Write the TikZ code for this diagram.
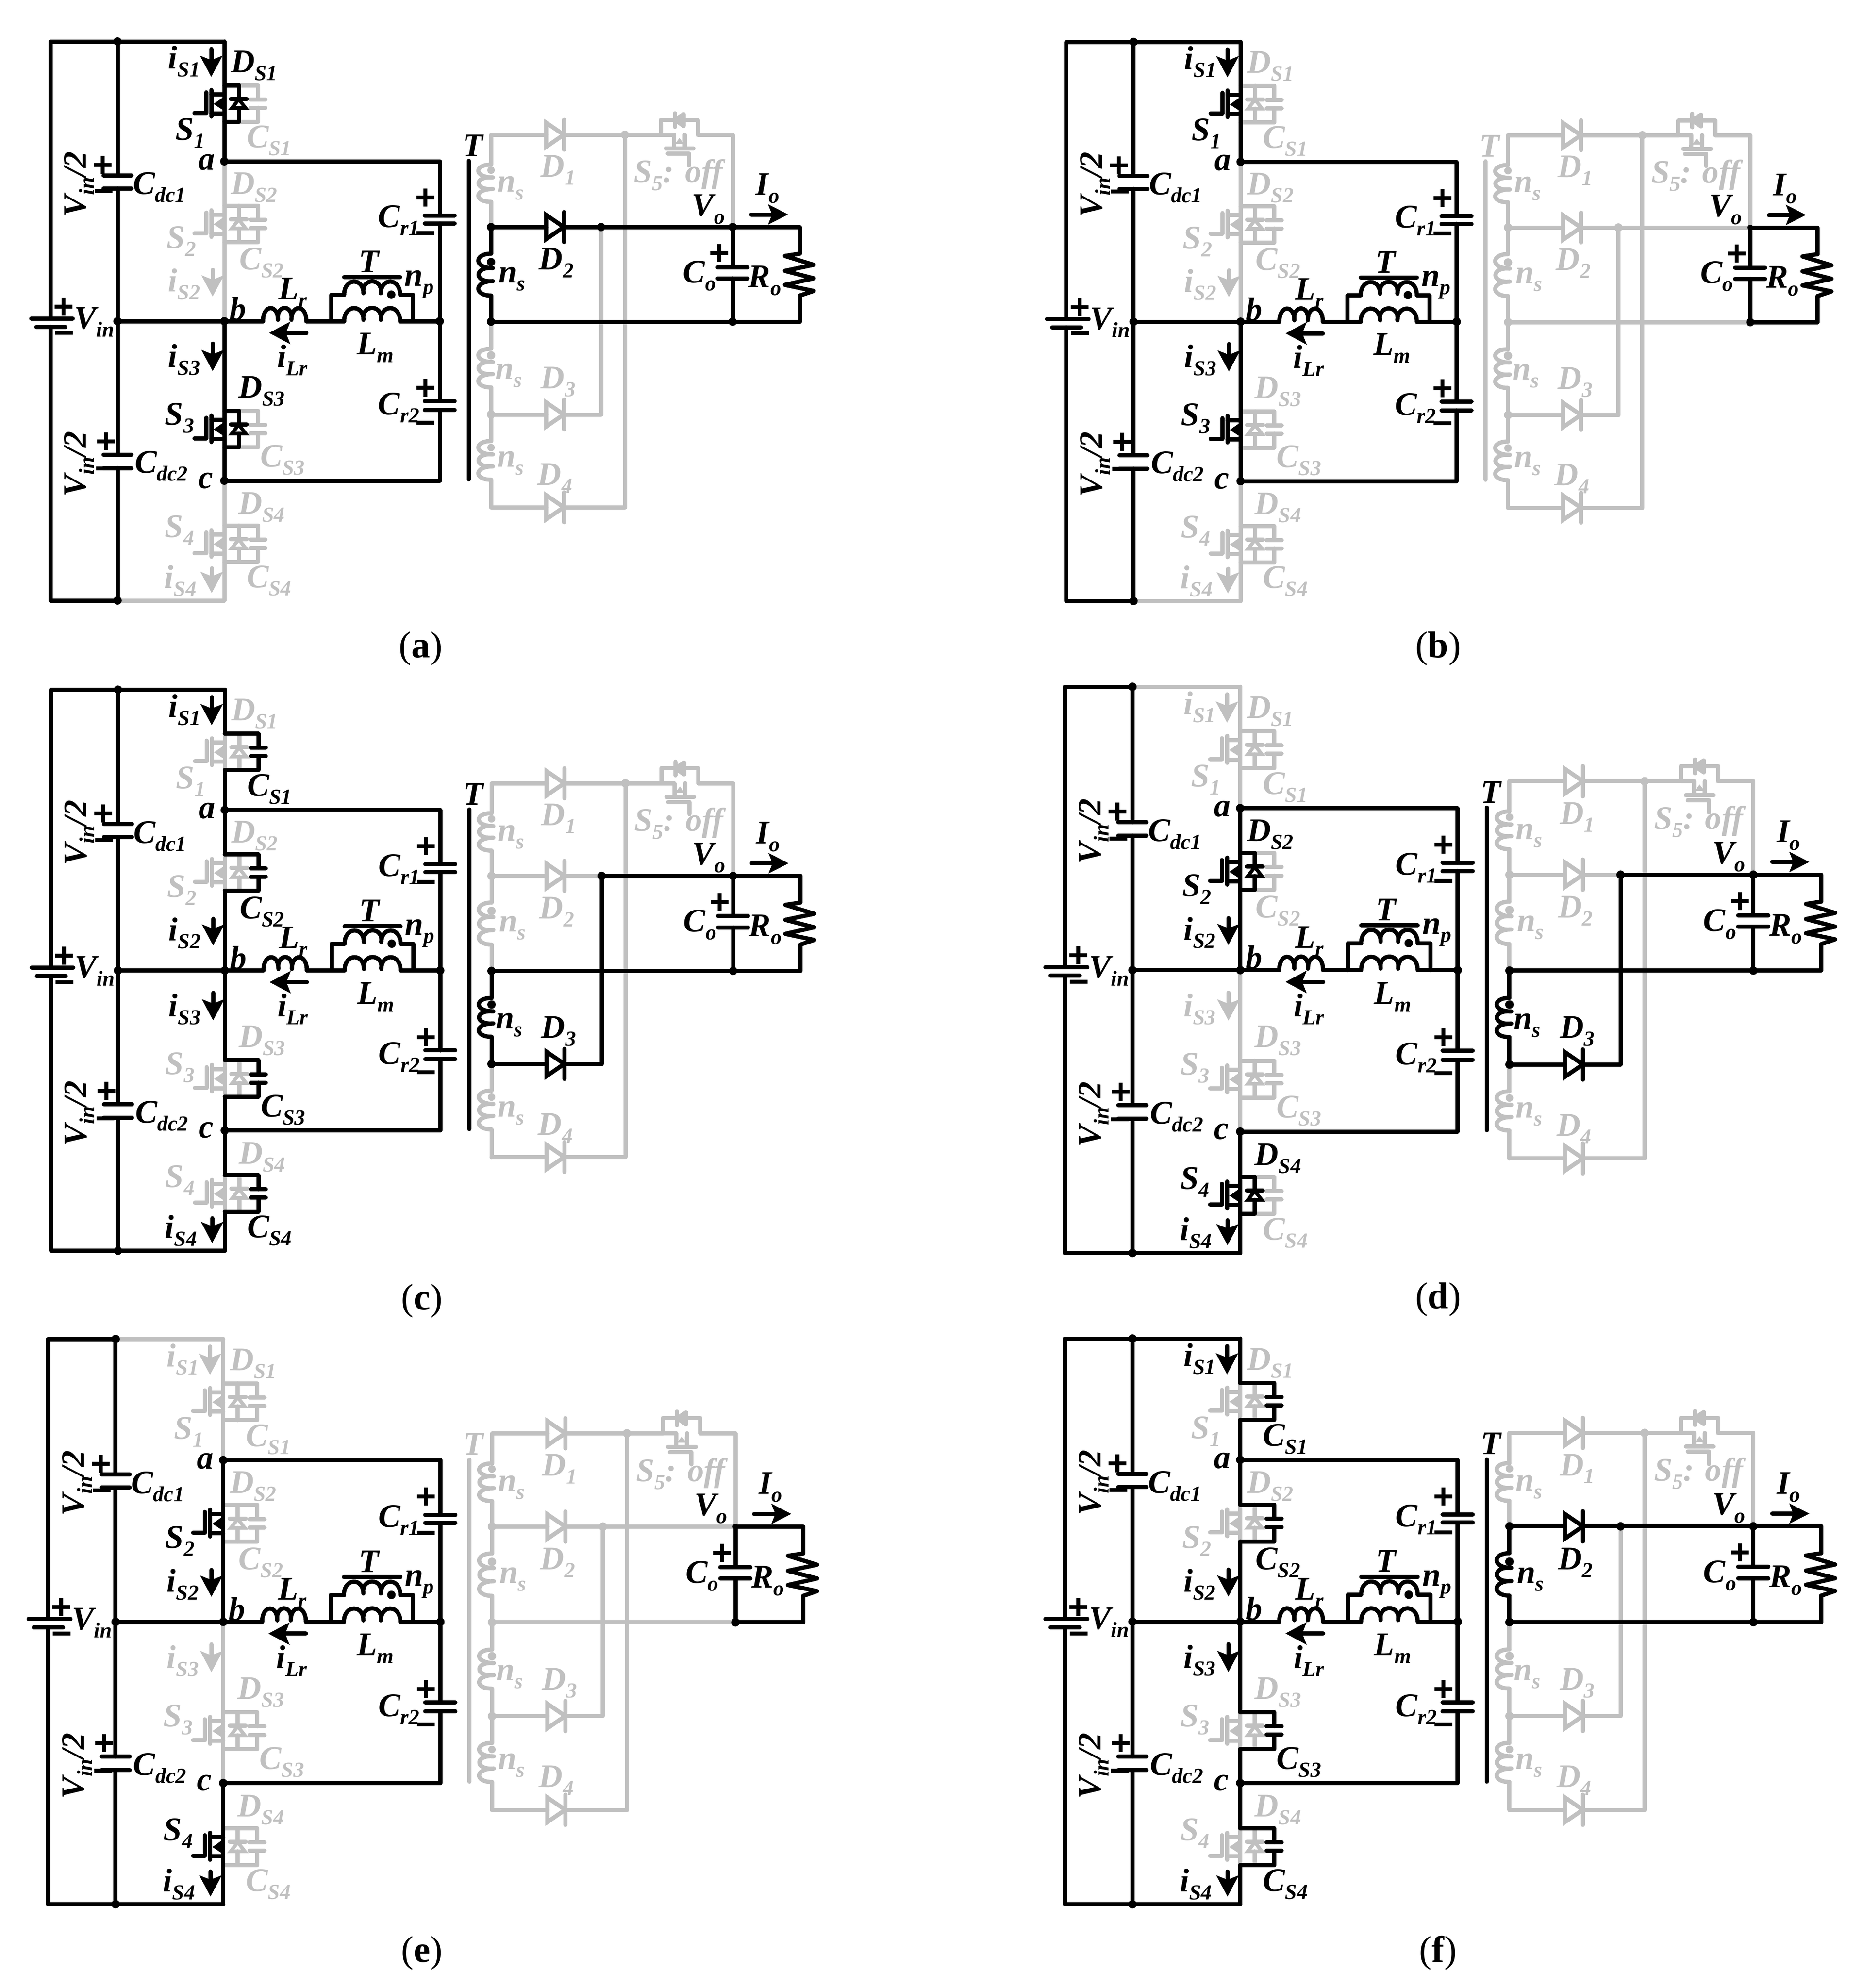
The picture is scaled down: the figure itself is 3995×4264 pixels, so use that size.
\documentclass[tikz,border=0pt]{standalone}
\usepackage{fontspec}
\setmainfont{Liberation Serif}
\newfontfamily\sgnf{Liberation Sans}
\usetikzlibrary{arrows.meta}
\definecolor{gry}{RGB}{192,192,192}
\colorlet{cur}{black}
\tikzset{
  wire/.style={draw=cur,line width=2.25pt,line cap=round,line join=round},
  plate/.style={wire},
  tri/.style={draw=cur,line width=2.25pt,line join=miter},
  ltext/.style={text=cur,inner sep=0pt,font=\fontsize{17.7}{18}\selectfont\bfseries\itshape},
  stext/.style={text=cur,inner sep=0pt,font=\fontsize{19}{19}\selectfont\bfseries\sgnf},
  captxt/.style={text=black,inner sep=0pt,font=\fontsize{20}{20}\selectfont},
  curarrow/.style={wire,-{Stealth[length=11.2pt,width=11.7pt,inset=2.2pt]}},
  arrowo/.style={wire,-{Stealth[length=10.6pt,width=10.6pt,inset=2pt]}}
}
\def\pass{0}
\newcommand\onstate[2]{\ifnum#1=\pass\relax\ifnum#1=0\relax\colorlet{cur}{gry}\else\colorlet{cur}{black}\fi#2\fi}
\newcommand\lbs[2]{#1\raisebox{-.24em}{\fontsize{11.5}{12}\selectfont #2}}
\newcommand\wir[2]{\onstate{#1}{\draw[wire] #2;}}
\newcommand\lbl[5]{\onstate{#1}{\node[ltext] (#2) at (#3,#4) {#5};}}
\newcommand\sgnn[4]{\onstate{1}{\node[stext] (#1) at (#2,#3) {#4};}}
\newcommand\jdot[3]{\onstate{#1}{\fill[cur] (#2) circle[radius=#3];}}
% vertical capacitor in a vertical wire
\newcommand\capv[4]{\draw[plate] (#1-#4,#2)--(#1+#4,#2);\draw[plate] (#1-#4,#3)--(#1+#4,#3);}
% horizontal coil: bumps upward, start x, y, length
\newcommand\hcoil[3]{\begin{scope}[shift={(#1,#2)},xscale=#3]
\draw[wire] (0,0) .. controls (0,-37) and (.345,-37) .. (.345,-3)
 .. controls (.3,-37) and (.7,-37) .. (.655,-3)
 .. controls (.655,-37) and (1,-37) .. (1,0);
\end{scope}}
% vertical coil: bumps to the left, x, start y, length
\newcommand\vcoil[3]{\begin{scope}[shift={(#1,#2)},yscale=#3]
\draw[wire] (0,0) .. controls (-37,0) and (-37,.345) .. (4,.345)
 .. controls (-37,.3) and (-37,.7) .. (4,.655)
 .. controls (-37,.655) and (-37,1) .. (0,1);
\end{scope}}
% diode pointing right
\newcommand\diod[2]{\begin{scope}[shift={(#1,#2)}]
\draw[tri] (0,-26)--(38,0)--(0,26)--cycle;\draw[wire] (38,-32)--(38,32);
\end{scope}}
% switch cell: cy m d c
\newcommand\swit[4]{%
\def\bx{0}\ifnum#3=1\def\bx{1}\fi\ifnum#4=1\def\bx{1}\fi
\onstate{#2}{\begin{scope}[shift={(481,#1)}]
\draw[wire] (0,-39)--(0,39);
\draw[wire] (0,-20)--(-28,-20);\draw[wire] (-28,-29)--(-28,28);\draw[wire] (-28,21)--(0,21);
\draw[wire] (-39,-24)--(-39,20)--(-64,20);
\fill[cur] (-23,1)--(-3,-13)--(-3,14)--cycle;\draw[wire] (-3,1)--(0,1);
\end{scope}}
\onstate{\bx}{\begin{scope}[shift={(481,#1)}]
\draw[wire] (0,-39)--(31,-39);\draw[wire] (0,39)--(31,39);
\end{scope}}
\onstate{#3}{\begin{scope}[shift={(481,#1)}]
\draw[wire] (31,-39)--(31,-10);\draw[wire] (31,10)--(31,39);
\draw[wire] (14,-10)--(48,-10);
\draw[tri,line width=1.9pt] (31,-9)--(16,10)--(46,10)--cycle;
\end{scope}}
\onstate{#4}{\begin{scope}[shift={(481,#1)}]
\draw[wire] (31,-39)--(72,-39)--(72,-9);\draw[wire] (72,9)--(72,39)--(31,39);
\draw[plate] (56,-9)--(88,-9);\draw[plate] (56,9)--(88,9);
\end{scope}}}
\newcommand\swOne[4]{\swit{222}{#1}{#2}{#3}
\wir{#4}{(lgT)--(s1t)}\wir{#4}{(s1b)--(na)}\wir{#4}{(ct)--(lgT)}
\onstate{#4}{\draw[curarrow] (453,105)--(453,165);}
\lbl{#4}{iS1}{395}{132}{\lbs{i}{S1}}\lbl{#2}{DS1}{545}{141}{\lbs{D}{S1}}
\lbl{#1}{S1}{408}{286}{\lbs{S}{1}}\lbl{#3}{CS1}{577}{302}{\lbs{C}{S1}}}
\newcommand\swTwo[4]{\swit{480}{#1}{#2}{#3}
\wir{#4}{(na)--(s2t)}\wir{#4}{(s2b)--(nb)}
\onstate{#4}{\draw[curarrow] (456,579)--(456,636);}
\lbl{#4}{iS2}{395}{610}{\lbs{i}{S2}}\lbl{#2}{DS2}{545}{402}{\lbs{D}{S2}}
\lbl{#1}{S2}{389}{518}{\lbs{S}{2}}\lbl{#3}{CS2}{561}{564}{\lbs{C}{S2}}}
\newcommand\swThree[4]{\swit{920}{#1}{#2}{#3}
\wir{#4}{(nb)--(s3t)}\wir{#4}{(s3b)--(nc)}
\onstate{#4}{\draw[curarrow] (456,737)--(456,796);}
\lbl{#4}{iS3}{395}{772}{\lbs{i}{S3}}\lbl{#2}{DS3}{561}{839}{\lbs{D}{S3}}
\lbl{#1}{S3}{385}{897}{\lbs{S}{3}}\lbl{#3}{CS3}{606}{987}{\lbs{C}{S3}}}
\newcommand\swFour[4]{\swit{1166}{#1}{#2}{#3}
\wir{#4}{(nc)--(s4t)}\wir{#4}{(s4b)--(lgB)}\wir{#4}{(lgB)--(cb)}
\onstate{#4}{\draw[curarrow] (454,1219)--(454,1272);}
\lbl{#4}{iS4}{387}{1246}{\lbs{i}{S4}}\lbl{#2}{DS4}{561}{1088}{\lbs{D}{S4}}
\lbl{#1}{S4}{385}{1138}{\lbs{S}{4}}\lbl{#3}{CS4}{577}{1246}{\lbs{C}{S4}}}
% one panel: id ox oy sx sy
\newcommand\onepanel[5]{\begin{scope}[shift={(#2,#3)},xscale=#4,yscale=#5,name prefix=#1-]
\coordinate (lt) at (108,89);\coordinate (lb) at (108,1288);\coordinate (ct) at (252,89);\coordinate (cb) at (252,1288);
\coordinate (lgT) at (481,89);\coordinate (lgB) at (481,1288);\coordinate (na) at (481,346);\coordinate (nb) at (481,689);\coordinate (nc) at (481,1031);
\coordinate (rt) at (943,346);\coordinate (rm) at (943,689);\coordinate (rb) at (943,1031);\coordinate (cm) at (252,689);
\coordinate (bp1) at (108,683);\coordinate (bp2) at (108,701);
\coordinate (c1a) at (252,376);\coordinate (c1b) at (252,404);\coordinate (c2a) at (252,975);\coordinate (c2b) at (252,1004);
\coordinate (s1t) at (481,183);\coordinate (s1b) at (481,261);\coordinate (s2t) at (481,441);\coordinate (s2b) at (481,519);
\coordinate (s3t) at (481,881);\coordinate (s3b) at (481,959);\coordinate (s4t) at (481,1127);\coordinate (s4b) at (481,1205);
\coordinate (cr1a) at (943,462);\coordinate (cr1b) at (943,479);\coordinate (cr2a) at (943,860);\coordinate (cr2b) at (943,879);
\coordinate (lra) at (564,689);\coordinate (lrb) at (657,689);\coordinate (pl) at (710,689);\coordinate (pr) at (885,689);
\coordinate (pul) at (710,632);\coordinate (pur) at (885,632);\coordinate (ua) at (738,632);\coordinate (ub) at (858,632);
\coordinate (la) at (738,689);\coordinate (lbb) at (858,689);
\coordinate (wt) at (1053,289);\coordinate (w1a) at (1053,353);\coordinate (w1b) at (1053,433);\coordinate (w2) at (1053,487);
\coordinate (w2a) at (1053,544);\coordinate (w2b) at (1053,634);\coordinate (wm) at (1053,690);\coordinate (w3a) at (1053,748);
\coordinate (w3b) at (1053,831);\coordinate (w4j) at (1053,889);\coordinate (w4a) at (1053,946);\coordinate (w4b) at (1053,1029);\coordinate (wbot) at (1053,1088);
\coordinate (d1a) at (1171,289);\coordinate (d1b) at (1209,289);\coordinate (d2a) at (1171,487);\coordinate (d2b) at (1209,487);
\coordinate (d3a) at (1171,889);\coordinate (d3b) at (1209,889);\coordinate (d4a) at (1171,1088);\coordinate (d4b) at (1209,1088);
\coordinate (j1) at (1340,289);\coordinate (j1b) at (1340,1088);\coordinate (j2) at (1289,487);\coordinate (j3) at (1289,889);
\coordinate (vt) at (1571,289);\coordinate (vo) at (1571,487);\coordinate (gm) at (1571,690);\coordinate (coa) at (1571,573);\coordinate (cob) at (1571,597);
\coordinate (rtop) at (1715,487);\coordinate (ra) at (1715,544);\coordinate (rz) at (1715,634);\coordinate (rbot) at (1715,690);
\coordinate (s5a) at (1417,289);\coordinate (s5b) at (1417,257);\coordinate (s5c) at (1496,257);\coordinate (s5d) at (1496,289);
\coordinate (s5e) at (1445,289);\coordinate (s5f) at (1468,289);\coordinate (coreT) at (1005,345);\coordinate (coreB) at (1005,1028);
\coordinate (ia) at (657,714);\coordinate (ib) at (577,714);\coordinate (ioa) at (1611,460);\coordinate (iob) at (1690,460);
\coordinate (tbl) at (738,594);\coordinate (tbr) at (858,594);
% fixed black part of the primary
\wir{1}{(bp1)--(lt)--(ct)}\wir{1}{(bp2)--(lb)--(cb)}
\wir{1}{(ct)--(c1a)}\wir{1}{(c1b)--(cm)}\wir{1}{(cm)--(c2a)}\wir{1}{(c2b)--(cb)}
\wir{1}{(cm)--(lra)}\wir{1}{(lrb)--(pl)--(la)}\wir{1}{(lbb)--(rm)}\wir{1}{(pl)--(pul)--(ua)}\wir{1}{(ub)--(pur)--(pr)}
\wir{1}{(na)--(rt)--(cr1a)}\wir{1}{(cr1b)--(rm)}\wir{1}{(rm)--(cr2a)}\wir{1}{(cr2b)--(rb)--(nc)}
\onstate{1}{\draw[plate] (67,683)--(156,683);\draw[plate] (78,701)--(140,701);
\capv{252}{376}{404}{30}\capv{252}{975}{1004}{30}\capv{943}{462}{479}{32}\capv{943}{860}{879}{32}
\hcoil{564}{689}{93}\hcoil{738}{632}{120}\hcoil{738}{689}{120}\draw[wire] (tbl)--(tbr);\fill[cur] (839,632) circle[radius=9];
\draw[curarrow] (ia)--(ib);}
% switches
\expandafter\swOne\stA\expandafter\swTwo\stB\expandafter\swThree\stC\expandafter\swFour\stD
% primary labels
\jdot{1}{ct}{9}\jdot{1}{cb}{9}\jdot{1}{cm}{9}\jdot{1}{na}{9}\jdot{1}{nb}{9}\jdot{1}{nc}{9}\jdot{1}{rm}{9}
\lbl{1}{Vin}{202}{691}{\lbs{V}{in}}
\onstate{1}{\node[rotate=90,ltext] (Vh1) at (170,395) {\lbs{V}{in}/2};
\node[rotate=90,ltext] (Vh2) at (170,995) {\lbs{V}{in}/2};}
\lbl{1}{Cdc1}{342}{402}{\lbs{C}{dc1}}\lbl{1}{Cdc2}{346}{1000}{\lbs{C}{dc2}}
\lbl{1}{la}{443}{348}{a}\lbl{1}{lb}{510}{662}{b}\lbl{1}{lc}{441}{1031}{c}
\lbl{1}{Lr}{628}{628}{\lbs{L}{r}}\lbl{1}{iLr}{627}{772}{\lbs{i}{Lr}}\lbl{1}{T}{791}{561}{T}\lbl{1}{np}{899}{610}{\lbs{n}{p}}\lbl{1}{Lm}{805}{746}{\lbs{L}{m}}
\lbl{1}{Cr1}{855}{473}{\lbs{C}{r1}}\lbl{1}{Cr2}{855}{875}{\lbs{C}{r2}}
\sgnn{bp}{137}{661}{+}\sgnn{bm}{138}{725}{−}
\sgnn{c1p}{221}{357}{+}\sgnn{c1m}{223}{421}{−}\sgnn{c2p}{228}{950}{+}\sgnn{c2m}{226}{1016}{−}
\sgnn{r1p}{913}{427}{+}\sgnn{r1m}{913}{511}{−}\sgnn{r2p}{913}{835}{+}\sgnn{r2m}{913}{918}{−}
\sgnn{cop}{1543}{546}{+}
% secondary: always gray
\wir{0}{(w1a)--(wt)--(d1a)}\wir{0}{(d1b)--(j1)--(j1b)--(d4b)}\wir{0}{(wbot)--(d4a)}\wir{0}{(w1b)--(w2)}\wir{0}{(w4j)--(w4a)}\wir{0}{(w4b)--(wbot)}
\wir{0}{(j1)--(s5a)--(s5b)--(s5c)--(s5d)--(vt)--(vo)}
\onstate{0}{\diod{1171}{289}\diod{1171}{1088}\vcoil{1053}{353}{80}\vcoil{1053}{946}{83}
\draw[wire] (s5a)--(s5e)--(1445,318);\draw[wire] (s5f)--(1468,318);\draw[wire] (1428,318)--(1487,318);
\draw[wire] (1432,329)--(1477,329)--(1477,355);\fill[cur] (1457,296)--(1447,309)--(1467,309)--cycle;
\draw[wire] (1447,243)--(1447,272);\draw[wire] (1447,257)--(1466,245)--(1466,270)--cycle;
\fill[cur] (j1) circle[radius=9];\fill[cur] (1053,365) circle[radius=8];\fill[cur] (1053,960) circle[radius=8];}
\lbl{0}{D1}{1197}{365}{\lbs{D}{1}}\lbl{0}{D4}{1190}{1026}{\lbs{D}{4}}
\lbl{0}{ns1}{1095}{404}{\lbs{n}{s}}\lbl{0}{ns4}{1095}{994}{\lbs{n}{s}}
\lbl{0}{S5}{1455}{375}{\lbs{S}{5}: off}
% D2 branch
\wir{\two}{(w2)--(d2a)}\wir{\two}{(d2b)--(j2)}\wir{\two}{(w2)--(w2a)}\wir{\two}{(w2b)--(wm)}
\onstate{\two}{\diod{1171}{487}\vcoil{1053}{544}{90}\fill[cur] (1053,562) circle[radius=9];}
\jdot{\two}{w2}{9}
\lbl{\two}{D2}{1193}{564}{\lbs{D}{2}}\lbl{\two}{ns2}{1098}{599}{\lbs{n}{s}}
% D3 branch
\wir{\three}{(wm)--(w3a)}\wir{\three}{(w3b)--(w4j)--(d3a)}\wir{\three}{(d3b)--(j3)--(j2)}
\onstate{\three}{\diod{1171}{889}\vcoil{1053}{748}{83}\fill[cur] (1053,762) circle[radius=9];}
\jdot{\three}{w4j}{9}
\lbl{\three}{D3}{1197}{819}{\lbs{D}{3}}\lbl{\three}{ns3}{1091}{806}{\lbs{n}{s}}
% shared return
\wir{\tT}{(j2)--(vo)}\wir{\tT}{(wm)--(gm)}\jdot{\tT}{j2}{9}\jdot{\tT}{wm}{9}
\wir{\tT}{(coreT)--(coreB)}\lbl{\tT}{Tc}{1014}{312}{T}
% output
\wir{1}{(vo)--(coa)}\wir{1}{(cob)--(gm)}\wir{1}{(vo)--(rtop)--(ra)}\wir{1}{(rz)--(rbot)--(gm)}
\onstate{1}{\capv{1571}{573}{597}{32}
\draw[wire] (ra)--(1683,549)--(1745,568)--(1683,581)--(1745,597)--(1683,611)--(1745,624)--(rz);
\draw[arrowo] (ioa)--(iob);}
\jdot{1}{vo}{\rvo}\jdot{1}{gm}{9}
\lbl{1}{Vo}{1519}{449}{\lbs{V}{o}}\lbl{1}{Io}{1646}{404}{\lbs{I}{o}}\lbl{1}{Co}{1500}{592}{\lbs{C}{o}}\lbl{1}{Ro}{1640}{602}{\lbs{R}{o}}
\end{scope}}
\newcommand\drawpanel[5]{\def\pass{0}\onepanel{#1}{#2}{#3}{#4}{#5}\def\pass{1}\onepanel{#1}{#2}{#3}{#4}{#5}}
\newcommand\capnode[4]{\node[captxt] (#1) at (#2,#3) {(\textbf{#4})};}
\begin{document}
\begin{tikzpicture}[x=0.25pt,y=-0.25pt]
\fill[white] (0,0) rectangle (3995,4264);
\path[use as bounding box] (0,0) rectangle (3995,4264);
% (a)
\def\stA{{1}{1}{0}{1}}\def\stB{{0}{0}{0}{0}}\def\stC{{1}{1}{0}{1}}\def\stD{{0}{0}{0}{0}}
\def\two{1}\def\three{0}\def\tT{1}\def\rvo{9}
\drawpanel{a}{0}{0}{1}{1}
% (b)
\def\stA{{1}{0}{0}{1}}\def\stB{{0}{0}{0}{0}}\def\stC{{1}{0}{0}{1}}\def\stD{{0}{0}{0}{0}}
\def\two{0}\def\three{0}\def\tT{0}\def\rvo{6}
\drawpanel{b}{2178}{1}{1.0025}{1}
% (c)
\def\stA{{0}{0}{1}{1}}\def\stB{{0}{0}{1}{1}}\def\stC{{0}{0}{1}{1}}\def\stD{{0}{0}{1}{1}}
\def\two{0}\def\three{1}\def\tT{1}\def\rvo{9}
\drawpanel{c}{1}{1390}{1}{1.0033}
% (d)
\def\stA{{0}{0}{0}{0}}\def\stB{{1}{1}{0}{1}}\def\stC{{0}{0}{0}{0}}\def\stD{{1}{1}{0}{1}}
\def\two{0}\def\three{1}\def\tT{1}\def\rvo{9}
\drawpanel{d}{2174}{1383}{1.0093}{1.0125}
% (e)
\def\stA{{0}{0}{0}{0}}\def\stB{{1}{0}{0}{1}}\def\stC{{0}{0}{0}{0}}\def\stD{{1}{0}{0}{1}}
\def\two{0}\def\three{0}\def\tT{0}\def\rvo{6}
\drawpanel{e}{-6}{2782}{1.0075}{1.0108}
% (f)
\def\stA{{0}{0}{1}{1}}\def\stB{{0}{0}{1}{1}}\def\stC{{0}{0}{1}{1}}\def\stD{{0}{0}{1}{1}}
\def\two{1}\def\three{0}\def\tT{1}\def\rvo{9}
\drawpanel{f}{2174}{2781}{1.0093}{1.0117}
\capnode{capa}{902}{1391}{a}\capnode{capb}{3084}{1391}{b}\capnode{capc}{905}{2790}{c}
\capnode{capd}{3084}{2787}{d}\capnode{cape}{905}{4189}{e}\capnode{capf}{3084}{4189}{f}
\end{tikzpicture}
\end{document}
